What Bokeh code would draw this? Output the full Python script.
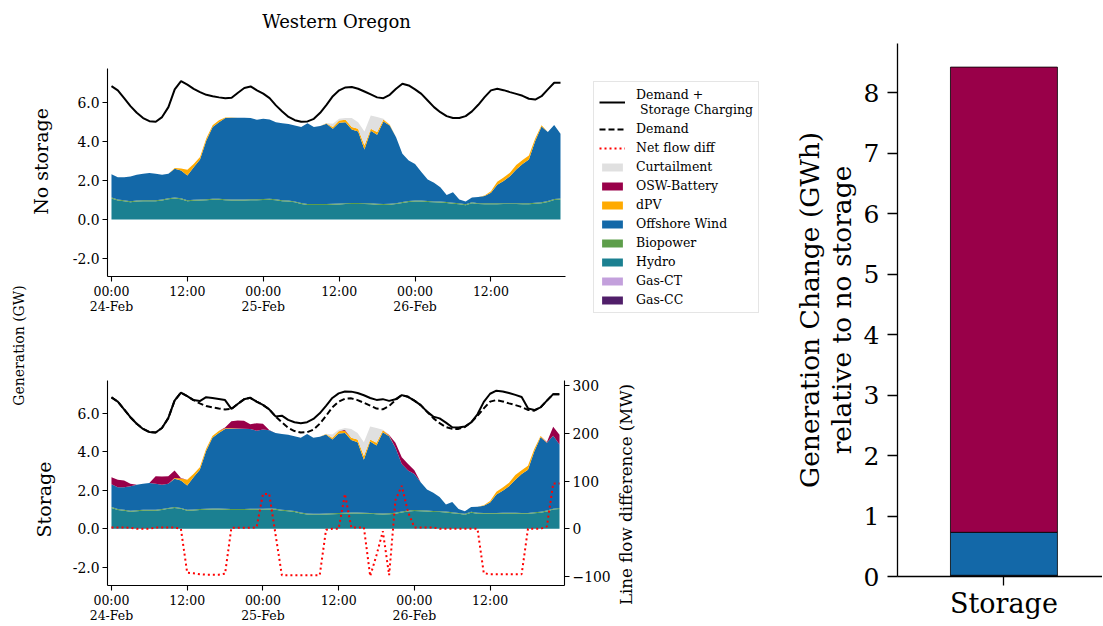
import numpy as np
from math import pi
from bokeh.plotting import figure
from bokeh.models import (ColumnDataSource, Range1d, LinearAxis, FixedTicker,
                          Legend, LegendItem, Label, NumeralTickFormatter)
from bokeh.layouts import row, column
from bokeh.embed import file_html
from bokeh.resources import INLINE

FONT = "DejaVu Serif"

# ---------------- data ----------------
hours = list(range(72))
time_ticks = [0, 12, 24, 36, 48, 60]
time_tick_labels = ["00:00\n24-Feb", "12:00", "00:00\n25-Feb", "12:00", "00:00\n26-Feb", "12:00"]
gen_ticks = [-2, 0, 2, 4, 6]
flow_ticks = [-100, 0, 100, 200, 300]

demand = [6.84, 6.62, 6.22, 5.81, 5.47, 5.20, 5.04, 5.01, 5.25, 5.76, 6.67, 7.09, 6.91, 6.70,
          6.53, 6.39, 6.32, 6.26, 6.21, 6.24, 6.50, 6.74, 6.82, 6.62, 6.45,
          6.22, 5.85, 5.54, 5.26, 5.09, 5.01, 5.03, 5.16, 5.47, 5.88, 6.32, 6.62, 6.77, 6.79,
          6.70, 6.56, 6.41, 6.26, 6.22, 6.39, 6.70, 6.96, 6.87, 6.67,
          6.44, 6.10, 5.76, 5.50, 5.30, 5.20, 5.20, 5.30, 5.54, 5.88, 6.27, 6.62, 6.70, 6.63,
          6.53, 6.44, 6.34, 6.19, 6.15, 6.32, 6.67, 7.01, 7.01]

demand_plus_charging = [6.84, 6.62, 6.22, 5.81, 5.47, 5.20, 5.04, 5.01, 5.25, 5.76, 6.67, 7.09, 6.91, 6.70,
                        6.65, 6.85, 6.81, 6.76, 6.70, 6.24, 6.50, 6.74, 6.82, 6.62, 6.45,
                        6.22, 5.85, 5.89, 5.67, 5.55, 5.50, 5.55, 5.72, 6.01, 6.40, 6.81, 7.05, 7.15, 7.14,
                        7.07, 6.95, 6.81, 6.71, 6.75, 6.66, 6.74, 6.96, 6.87, 6.67,
                        6.44, 6.10, 5.84, 5.75, 5.53, 5.29, 5.27, 5.32, 5.54, 5.96, 6.61, 7.03, 7.19, 7.15,
                        7.07, 6.97, 6.86, 6.27, 6.18, 6.32, 6.67, 7.01, 7.01]

hydro = [1.08, 0.98, 0.94, 0.89, 0.92, 0.94, 0.94, 0.94, 0.98, 1.04, 1.08, 1.04, 0.94, 0.96,
         0.98, 0.99, 1.01, 1.01, 0.99, 0.98, 0.98, 0.98, 0.99, 0.99, 1.00,
         1.01, 0.99, 0.94, 0.92, 0.88, 0.80, 0.75, 0.74, 0.74, 0.75, 0.76, 0.77, 0.79, 0.80,
         0.80, 0.79, 0.78, 0.76, 0.75, 0.76, 0.79, 0.85, 0.90, 0.93,
         0.92, 0.90, 0.88, 0.87, 0.85, 0.81, 0.78, 0.73, 0.84, 0.79, 0.78, 0.78, 0.78, 0.79,
         0.79, 0.79, 0.78, 0.78, 0.81, 0.84, 0.90, 1.00, 1.03]

biopower = [0.05, 0.05, 0.05, 0.05, 0.05, 0.05, 0.05, 0.05, 0.05, 0.05, 0.05, 0.05, 0.05, 0.05,
            0.05, 0.05, 0.05, 0.05, 0.05, 0.05, 0.05, 0.05, 0.05, 0.05, 0.05,
            0.05, 0.05, 0.05, 0.05, 0.05, 0.05, 0.05, 0.05, 0.05, 0.05, 0.05, 0.05, 0.05, 0.05,
            0.05, 0.05, 0.05, 0.05, 0.05, 0.05, 0.05, 0.05, 0.05, 0.05,
            0.05, 0.05, 0.05, 0.05, 0.05, 0.05, 0.05, 0.05, 0.05, 0.05, 0.05, 0.05, 0.05, 0.05,
            0.05, 0.05, 0.05, 0.05, 0.05, 0.05, 0.05, 0.05, 0.05]

offshore_wind = [1.19, 1.14, 1.18, 1.27, 1.32, 1.35, 1.40, 1.35, 1.26, 1.25, 1.47, 1.42, 1.27, 1.67,
                 2.05, 3.01, 3.68, 3.93, 4.16, 4.18, 4.18, 4.18, 4.16, 4.07, 4.12,
                 4.07, 3.95, 3.95, 3.92, 3.89, 3.89, 4.14, 3.95, 4.00, 4.11, 3.84, 4.14, 4.15, 3.77,
                 3.66, 2.75, 3.72, 3.53, 4.23, 4.01, 3.38, 2.47, 2.08, 1.87,
                 1.46, 1.10, 0.95, 0.74, 0.36, 0.54, 0.20, 0.14, 0.24, 0.31, 0.37, 0.54, 0.95, 1.14,
                 1.38, 1.72, 2.02, 2.25, 3.16, 3.88, 3.53, 3.80, 3.31]

dpv = [0, 0, 0, 0, 0, 0, 0, 0, 0, 0, 0.04, 0.11, 0.29, 0.17,
       0.12, 0.12, 0.09, 0.10, 0.03, 0.02, 0.01, 0, 0, 0, 0,
       0, 0, 0, 0, 0, 0, 0, 0, 0, 0.02, 0.09, 0.12, 0.12, 0.12,
       0.14, 0.20, 0.10, 0.14, 0.10, 0.04, 0, 0, 0, 0,
       0, 0, 0, 0, 0, 0, 0, 0, 0, 0, 0.03, 0.08, 0.15, 0.17,
       0.18, 0.24, 0.20, 0.20, 0.13, 0.06, 0.01, 0, 0]

curtailment = [0, 0, 0, 0, 0, 0, 0, 0, 0, 0, 0, 0, 0, 0,
               0, 0, 0, 0, 0, 0, 0, 0, 0, 0, 0,
               0, 0, 0, 0, 0, 0, 0, 0, 0, 0.02, 0.17, 0.08, 0.09, 0.46,
               0.34, 0.72, 0.68, 0.77, 0.03, 0, 0, 0, 0, 0,
               0, 0, 0, 0, 0, 0, 0, 0, 0, 0, 0, 0, 0, 0,
               0, 0, 0, 0, 0, 0, 0, 0, 0]

osw_battery_storage = [0.37, 0.39, 0.34, 0.14, 0, 0, 0, 0.40, 0.43, 0.39, 0.40, 0.02, 0, 0,
                       0, 0, 0, 0, 0.05, 0.37, 0.42, 0.41, 0.24, 0.39, 0.30,
                       0.02, 0, 0, 0, 0, 0, 0, 0, 0, 0, 0, 0, 0.05, 0,
                       0, 0, 0, 0, 0, 0.02, 0.26, 0.35, 0.34, 0.20,
                       0, 0, 0, 0, 0, 0, 0, 0, 0, 0, 0, 0, 0, 0,
                       0, 0, 0, 0, 0, 0, 0.03, 0.46, 0.51]

osw_battery_nostorage = [0.0] * 72
gas_ct = [0.0] * 72
gas_cc = [0.0] * 72

net_flow_diff = [3, 3, 3, 2, 0, 0, 0, 3, 3, 3, 3, 0, -92, -93,
                 -95, -96, -96, -96, -94, 2, 2, 2, 2, 3, 73,
                 73, -12, -97, -97, -97, -97, -97, -97, -97, -2, 0, 0, 73, 3,
                 3, 3, -99, -55, -5, -97, 60, 90, 35, 3,
                 3, 3, 3, 0, 0, 0, 0, 0, 0, 0, -93, -95, -95, -95,
                 -95, -95, -95, 0, 0, 0, 5, 95, 95]

bar_categories = ["Storage"]
bar_positions = [0]
bar_gas_cc = [0.02]
bar_offshore_wind = [0.71]
bar_osw_battery = [7.69]
bar_ticks = [0, 1, 2, 3, 4, 5, 6, 7, 8]

legend_area_names = ["Curtailment", "OSW-Battery", "dPV", "Offshore Wind", "Biopower", "Hydro", "Gas-CT", "Gas-CC"]

# ---------------- style ----------------
C_CURT = "#e0e0e0"
C_BATT = "#990049"
C_DPV = "#ffaa00"
C_OSW = "#1368a8"
C_BIO = "#5d9e4a"
C_HYDRO = "#1b8091"
C_GASCT = "#c3a0dc"
C_GASCC = "#501e69"

layer_names = ["gas_cc", "gas_ct", "hydro", "biopower", "offshore_wind", "dpv", "osw_battery", "curtailment"]
layer_colors = [C_GASCC, C_GASCT, C_HYDRO, C_BIO, C_OSW, C_DPV, C_BATT, C_CURT]
legend_area_colors = [C_CURT, C_BATT, C_DPV, C_OSW, C_BIO, C_HYDRO, C_GASCT, C_GASCC]


def style_axis(ax, size):
    ax.axis_line_color = "black"
    ax.axis_line_width = 1.1
    ax.major_tick_line_color = "black"
    ax.major_tick_line_width = 1.1
    ax.major_tick_out = 5
    ax.major_tick_in = 0
    ax.minor_tick_line_color = None
    ax.major_label_text_font = FONT
    ax.major_label_text_font_size = size
    ax.major_label_text_color = "black"
    ax.major_label_standoff = 3


def text_label(x, y, txt, size, angle=0.0, baseline="middle"):
    return Label(x=x, y=y, text=txt, angle=angle, text_font=FONT, text_font_size=size,
                 text_color="black", text_align="center", text_baseline=baseline)


def blank(width, height, xr, yr, **borders):
    f = figure(width=width, height=height, x_range=xr, y_range=yr, toolbar_location=None,
               output_backend="svg", x_axis_location=None, y_axis_location=None, **borders)
    f.outline_line_color = None
    f.grid.visible = False
    return f


def make_gen_fig(width, height, bright, btop, bbot, yr, battery):
    p = figure(width=width, height=height, x_range=Range1d(-0.63, 71.79), y_range=yr,
               toolbar_location=None, output_backend="svg",
               min_border_left=44, min_border_right=bright,
               min_border_top=btop, min_border_bottom=bbot)
    p.outline_line_color = None
    p.grid.visible = False
    xa = p.xaxis[0]
    xa.ticker = FixedTicker(ticks=time_ticks)
    xa.major_label_overrides = dict(zip(time_ticks, time_tick_labels))
    style_axis(xa, "12.5px")
    xa.major_label_standoff = 2
    xa.major_label_text_line_height = 1.0
    ya = p.yaxis[0]
    ya.ticker = FixedTicker(ticks=gen_ticks)
    ya.formatter = NumeralTickFormatter(format="0.0")
    style_axis(ya, "13.9px")
    src = ColumnDataSource(dict(hours=hours, gas_cc=gas_cc, gas_ct=gas_ct, hydro=hydro,
                                biopower=biopower, offshore_wind=offshore_wind, dpv=dpv,
                                osw_battery=battery, curtailment=curtailment))
    p.varea_stack(stackers=layer_names, x="hours", fill_color=layer_colors, source=src)
    return p


# ---------------- title strip ----------------
title_fig = blank(712, 40, Range1d(107, 565), Range1d(40, 0), min_border_left=44,
                  min_border_right=210, min_border_top=0, min_border_bottom=0)
title_fig.add_layout(text_label(336, 20.7, "Western Oregon", "18px", baseline="alphabetic"))

# ---------------- top: no storage ----------------
top = make_gen_fig(527, 290, 25, 28, 54, Range1d(-2.92, 7.74), osw_battery_nostorage)
top.line(hours, demand, line_color="black", line_width=2)

# ---------------- legend panel (own frame, x 590-775, y 40-330) ----------------
leg_fig = blank(185, 290, Range1d(0, 1), Range1d(0, 1), min_border=0)
nan1 = np.array([np.nan])
zero1 = np.array([0.0])
r_solid = leg_fig.line(x=zero1, y=nan1, line_color="black", line_width=2)
r_dash = leg_fig.line(x=zero1, y=nan1, line_color="black", line_width=2, line_dash="6 3")
r_dot = leg_fig.line(x=zero1, y=nan1, line_color="red", line_width=2, line_dash="2 3")
items = [
    LegendItem(label="Demand +\n Storage Charging", renderers=[r_solid]),
    LegendItem(label="Demand", renderers=[r_dash]),
    LegendItem(label="Net flow diff", renderers=[r_dot]),
]
for name, col in zip(legend_area_names, legend_area_colors):
    r = leg_fig.varea(x=zero1, y1=nan1, y2=nan1, fill_color=col)
    items.append(LegendItem(label=name, renderers=[r]))
legend = Legend(items=items, location=(3, 17))
legend.label_text_font = FONT
legend.label_text_font_size = "12.5px"
legend.label_text_color = "black"
legend.label_text_line_height = 1.1
legend.glyph_width = 26
legend.glyph_height = 10
legend.label_height = 13
legend.label_standoff = 11
legend.spacing = 4
legend.padding = 5
legend.margin = 0
legend.border_line_color = "#cccccc"
legend.border_line_width = 1
legend.background_fill_alpha = 1.0
leg_fig.add_layout(legend)

# ---------------- bottom: storage ----------------
bot = make_gen_fig(550, 295, 48, 50, 37, Range1d(-2.95, 7.72), osw_battery_storage)
bot.extra_y_ranges = {"flow": Range1d(-118.6, 310.3)}
ax2 = LinearAxis(y_range_name="flow", ticker=FixedTicker(ticks=flow_ticks))
ax2.major_label_overrides = {-100: "\u2212100"}
style_axis(ax2, "13.9px")
bot.add_layout(ax2, "right")
bot.line(hours, demand, line_color="black", line_width=2, line_dash="6 3")
bot.line(hours, demand_plus_charging, line_color="black", line_width=2)
bot.line(hours, net_flow_diff, y_range_name="flow", line_color="red", line_width=2, line_dash="2 3")

# right-axis title in its own strip (x 613-775, y 330-625)
rlab = blank(162, 295, Range1d(613, 775), Range1d(625, 330), min_border=0)
rlab.add_layout(text_label(625, 494, "Line flow difference (MW)", "16.7px", angle=pi / 2))

# ---------------- side labels ----------------
lab = blank(63, 625, Range1d(0, 63), Range1d(576, 43), min_border_left=0, min_border_right=0,
            min_border_top=43, min_border_bottom=49)
lab.add_layout(text_label(40, 161, "No storage", "19px", angle=pi / 2))
lab.add_layout(text_label(18, 345, "Generation (GW)", "14px", angle=pi / 2))
lab.add_layout(text_label(43, 499, "Storage", "19px", angle=pi / 2))

# ---------------- bar chart ----------------
bar = figure(width=327, height=625, x_range=Range1d(-0.796, 0.737), y_range=Range1d(0, 8.81),
             toolbar_location=None, output_backend="svg", min_border_left=122,
             min_border_right=0, min_border_top=43, min_border_bottom=49)
bar.outline_line_color = None
bar.grid.visible = False
bsrc = ColumnDataSource(dict(x=bar_positions, gas_cc=bar_gas_cc, osw=bar_offshore_wind,
                             batt=bar_osw_battery))
bar.vbar_stack(stackers=["gas_cc", "osw", "batt"], x="x", width=0.8, source=bsrc,
               fill_color=[C_GASCC, C_OSW, C_BATT], line_color="black", line_width=0.8)
bx = bar.xaxis[0]
bx.ticker = FixedTicker(ticks=bar_positions)
bx.major_label_overrides = dict(zip(bar_positions, bar_categories))
style_axis(bx, "27px")
bx.major_tick_out = 9
bx.major_label_standoff = 2
bx.axis_line_width = 1.3
bx.major_tick_line_width = 1.3
by = bar.yaxis[0]
by.ticker = FixedTicker(ticks=bar_ticks)
style_axis(by, "25px")
by.major_tick_out = 10
by.major_label_standoff = 8
by.axis_line_width = 1.3
by.major_tick_line_width = 1.3
by.axis_label = "Generation Change (GWh)\nrelative to no storage"
by.axis_label_text_font = FONT
by.axis_label_text_font_size = "26.5px"
by.axis_label_text_font_style = "normal"
by.axis_label_text_color = "black"
by.axis_label_text_line_height = 1.03
by.axis_label_standoff = 4

middle = column(title_fig, row(top, column(leg_fig)), row(bot, column(rlab)))
layout = row(lab, middle, bar)
open("out.html", "w").write(file_html(layout, INLINE))
